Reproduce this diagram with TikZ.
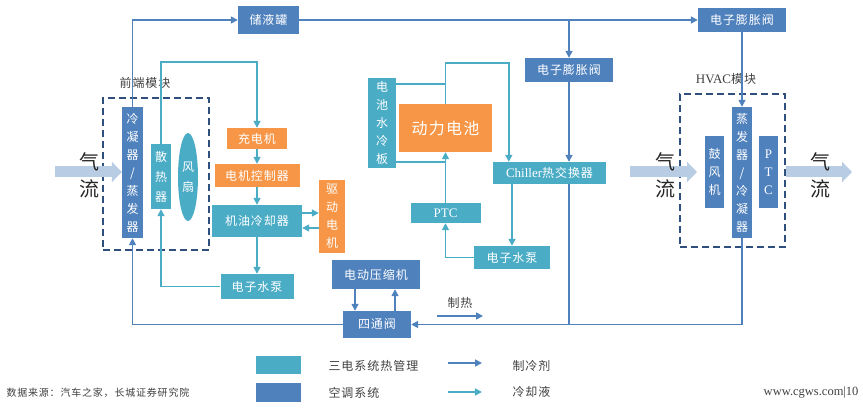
\documentclass[tikz,border=0pt]{standalone}
\usepackage{fontspec}
\usepackage{tikz}
\usetikzlibrary{arrows.meta,positioning,shapes.geometric,calc}
\setmainfont{Liberation Serif}
\newfontfamily\cjk{Noto Sans CJK SC}[LetterSpace=8]
\definecolor{acblue}    {HTML}{4F81BD}
\definecolor{coolteal}  {HTML}{4BACC6}
\definecolor{partorange}{HTML}{F79646}
\definecolor{modline}   {HTML}{2F4F7F}
\definecolor{airblue}   {HTML}{B8CCE4}
\definecolor{labelgray} {HTML}{404040}
\newcommand{\boxfont}{\cjk\fontsize{12pt}{18pt}\selectfont}
\tikzset{
  acbox/.style    ={fill=acblue, text=white, inner sep=0pt, align=center, font=\boxfont},
  coolbox/.style  ={fill=coolteal, text=white, inner sep=0pt, align=center, font=\boxfont},
  partbox/.style  ={fill=partorange, text=white, inner sep=0pt, align=center, font=\boxfont},
  modbox/.style   ={draw=modline, dash pattern=on 7pt off 4pt, line width=1.8pt, inner sep=0pt},
  modlabel/.style ={text=labelgray, font=\boxfont},
  refarr/.style   ={-{Triangle[length=7pt,width=7pt]}, line width=1.6pt, color=acblue},
  refline/.style  ={line width=1.6pt, color=acblue},
  coolarr/.style  ={-{Triangle[length=7pt,width=7pt]}, line width=1.6pt, color=coolteal},
  coolline/.style ={line width=1.6pt, color=coolteal},
  airarr/.style   ={-{Triangle[length=10pt,width=20pt]}, line width=11pt, color=airblue},
  airlabel/.style ={font=\cjk\fontsize{20pt}{27pt}\selectfont, text=black!85, align=center},
  keytext/.style  ={text=labelgray, font=\boxfont, anchor=west},
}
\begin{document}
\begin{tikzpicture}[x=1pt,y=-1pt]
    \useasboundingbox (0,0) rectangle (863,409);

    % ----- front-end module -----
    \node[modbox, minimum width=106pt, minimum height=152pt] (front) at (156,174) {};
    \node[modlabel] (frontlbl) at (145,83) {前端模块};
    \node[acbox, minimum width=21pt, minimum height=131pt] (cond) at (132.5,172.5)
      {冷\\凝\\器\\/\\蒸\\发\\器};
    \node[coolbox, minimum width=20pt, minimum height=65pt, font=\cjk\fontsize{12pt}{20pt}\selectfont] (rad) at (161,176.5)
      {散\\热\\器};
    \node[coolbox, ellipse, minimum width=20pt, minimum height=88pt, font=\cjk\fontsize{12pt}{20pt}\selectfont] (fan) at (188,177)
      {风\\扇};

    \coordinate (airLs) at (55,172);
    \draw[airarr] (airLs) -- (cond.west |- airLs);
    \node[airlabel] (airLlbl) at (89,175.5) {气\\流};

    % ----- motor coolant loop -----
    \node[partbox, minimum width=60pt, minimum height=21pt] (charger) at (257,138.5) {充电机};
    \node[partbox, minimum width=85pt, minimum height=23pt] (ctrl) at (257,175.5) {电机控制器};
    \node[coolbox, minimum width=90pt, minimum height=32pt] (oil) at (257,221) {机油冷却器};
    \node[partbox, minimum width=26pt, minimum height=73pt] (motor) at (332,216.5) {驱\\动\\电\\机};
    \node[coolbox, minimum width=73pt, minimum height=25pt] (pumpA) at (257,286.5) {电子水泵};

    \draw[coolarr] (rad.north) -- ++(0,-82) -| (charger.north);
    \draw[coolarr] (charger) -- (ctrl);
    \draw[coolarr] (ctrl) -- (oil);
    \draw[coolarr] ([yshift=8pt]oil.east) -- ([yshift=8pt]oil.east -| motor.west);
    \draw[coolarr] ([yshift=-7pt]oil.east -| motor.west) -- ([yshift=-7pt]oil.east);
    \draw[coolarr] (oil) -- (pumpA);
    \draw[coolarr] (pumpA.west) -| (rad.south);

    % ----- battery coolant loop -----
    \node[coolbox, minimum width=28pt, minimum height=90pt] (plate) at (382,123) {电\\池\\水\\冷\\板};
    \node[partbox, minimum width=93pt, minimum height=48pt, font=\cjk\fontsize{16pt}{18pt}\selectfont] (batt) at (445.5,128) {动力电池};
    \node[coolbox, minimum width=70pt, minimum height=20pt, font=\rmfamily\fontsize{13pt}{15pt}\selectfont] (ptc) at (445.5,213) {PTC};
    \node[coolbox, minimum width=113pt, minimum height=22pt] (chiller) at (549.5,173) {{\rmfamily\fontsize{13pt}{15pt}\selectfont Chiller}热交换器};
    \node[coolbox, minimum width=76pt, minimum height=23pt] (pumpB) at (512,257.5) {电子水泵};

    \draw[coolline] ([yshift=-6pt]plate.north east) -| (batt.north);
    \draw[coolarr] (batt.north) -- ++(0,-41) -| ([xshift=16pt]chiller.north west);
    \draw[coolline] ([yshift=6pt]plate.south east) -- ([yshift=6pt]plate.south east -| batt.south);
    \draw[coolarr] (ptc) -- (batt);
    \draw[coolarr] (chiller.south -| pumpB.north) -- (pumpB.north);
    \draw[coolarr] (pumpB.west) -| (ptc.south);

    % ----- refrigerant circuit -----
    \node[acbox, minimum width=61pt, minimum height=28pt] (tank) at (268.5,20) {储液罐};
    \node[acbox, minimum width=88pt, minimum height=24pt] (exvB) at (742,20) {电子膨胀阀};
    \node[acbox, minimum width=88pt, minimum height=24pt] (exvA) at (569,70) {电子膨胀阀};
    \node[acbox, minimum width=88pt, minimum height=29pt] (comp) at (376,274.5) {电动压缩机};
    \node[acbox, minimum width=68pt, minimum height=27pt] (fourway) at (377,324.5) {四通阀};

    \draw[refarr] (cond.north) |- (tank.west);
    \draw[refarr] (tank.east) -- (exvB.west);
    \draw[refarr] (exvA.north |- tank.east) -- (exvA.north);
    \draw[refarr] (exvA.south) -- (exvA.south |- chiller.north);
    \draw[refline] (chiller.south -| exvA.south) -- (exvA.south |- fourway.east);
    \draw[refarr] ([xshift=-21pt]comp.south) -- ([xshift=-21pt]comp.south |- fourway.north);
    \draw[refarr] ([xshift=19pt]comp.south |- fourway.north) -- ([xshift=19pt]comp.south);
    \draw[refarr] (fourway.west) -| (cond.south);

    \node[modlabel] (heatlbl) at (460,303) {制热};
    \coordinate (heatA) at (437,316);
    \coordinate (heatB) at (483,316);
    \draw[refarr] (heatA) -- (heatB);

    % ----- HVAC module -----
    \node[modbox, minimum width=105pt, minimum height=153pt] (hvac) at (732.5,170.5) {};
    \node[modlabel] (hvaclbl) at (726,79) {{\rmfamily\fontsize{13pt}{15pt}\selectfont HVAC}模块};
    \node[acbox, minimum width=19pt, minimum height=72pt] (blower) at (714.5,172) {鼓\\风\\机};
    \node[acbox, minimum width=20pt, minimum height=131pt] (evap) at (742,172.5)
      {蒸\\发\\器\\/\\冷\\凝\\器};
    \node[acbox, minimum width=19pt, minimum height=72pt, font=\rmfamily\fontsize{13pt}{18pt}\selectfont] (ptcv) at (768.5,172) {P\\T\\C};

    \draw[refarr] (exvB) -- (evap);
    \draw[refarr] (evap.south) |- (fourway.east);

    \coordinate (airMs) at (630,172);
    \coordinate (airMe) at (697,172);
    \draw[airarr] (airMs) -- (airMe);
    \node[airlabel] (airMlbl) at (665,175.5) {气\\流};
    \coordinate (airRe) at (852,172);
    \draw[airarr] (hvac.east |- airRe) -- (airRe);
    \node[airlabel] (airRlbl) at (820,175.5) {气\\流};

    % ----- legend and footer -----
    \node[coolbox, minimum width=45pt, minimum height=18pt] (keycool) at (278.5,365) {};
    \node[acbox, minimum width=45pt, minimum height=19pt] (keyac) at (278.5,392.5) {};
    \node[keytext] (keycooltxt) at (325,366) {三电系统热管理};
    \node[keytext] (keyactxt) at (325,393) {空调系统};
    \coordinate (keyrefA) at (448,363);
    \coordinate (keyrefB) at (482,363);
    \coordinate (keycoolA) at (448,392);
    \coordinate (keycoolB) at (482,392);
    \draw[refarr] (keyrefA) -- (keyrefB);
    \draw[coolarr] (keycoolA) -- (keycoolB);
    \node[keytext] (keyreftxt) at (509,366) {制冷剂};
    \node[keytext] (keycooltxtB) at (509,392) {冷却液};

    \node[anchor=west, text=labelgray, font=\cjk\fontsize{10pt}{12pt}\selectfont] (src) at (3,393)
      {数据来源：汽车之家，长城证券研究院};
    \node[anchor=east, text=labelgray, font=\rmfamily\fontsize{12.5pt}{14pt}\selectfont] (site) at (862,393)
      {www.cgws.com|10};
\end{tikzpicture}
\end{document}
